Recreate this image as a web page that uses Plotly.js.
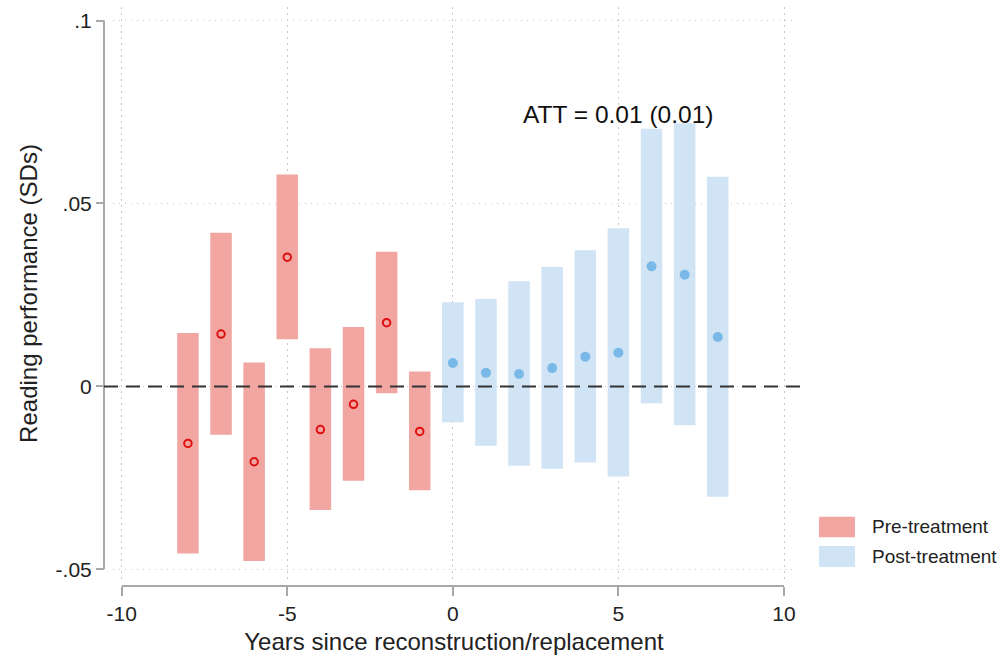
<!DOCTYPE html>
<html>
<head>
<meta charset="utf-8">
<script src="https://cdn.plot.ly/plotly-3.0.1.min.js"></script>
<style>
  html, body { margin: 0; padding: 0; background: #fff; }
  #chart { width: 1003px; height: 660px; }
</style>
</head>
<body>
<div id="chart"></div>
<script>
// Event-study estimates (Reading performance, SDs)
const preYears  = [-8, -7, -6, -5, -4, -3, -2, -1];
const preEst    = [-0.0156, 0.0143, -0.0206, 0.0353, -0.0118, -0.0049, 0.0174, -0.0123];
const preLower  = [-0.0457, -0.0132, -0.0477, 0.0129, -0.0338, -0.0258, -0.0019, -0.0284];
const preUpper  = [0.0146, 0.0420, 0.0065, 0.0579, 0.0104, 0.0162, 0.0368, 0.0041];

const postYears = [0, 1, 2, 3, 4, 5, 6, 7, 8];
const postEst   = [0.0064, 0.0037, 0.0034, 0.0050, 0.0081, 0.0092, 0.0328, 0.0305, 0.0135];
const postLower = [-0.0098, -0.0162, -0.0217, -0.0225, -0.0208, -0.0246, -0.0046, -0.0106, -0.0302];
const postUpper = [0.0230, 0.0239, 0.0287, 0.0326, 0.0372, 0.0432, 0.0704, 0.0719, 0.0573];

const xTicks = [-10, -5, 0, 5, 10];
const xTickText = ['-10', '-5', '0', '5', '10'];
const yTicks = [-0.05, 0, 0.05, 0.1];
const yTickText = ['-.05', '0', '.05', '.1'];

const legendLabels = ['Pre-treatment', 'Post-treatment'];
const attLabel = 'ATT = 0.01 (0.01)';

const preBarColor = 'rgb(241,166,162)';
const postBarColor = 'rgb(208,228,245)';
const preDotColor = 'rgb(222,16,16)';
const postDotColor = 'rgb(122,185,231)';
const FONT = 'Liberation Sans, Arial, Helvetica, sans-serif';

const traces = [
  {
    type: 'bar', x: preYears,
    y: preUpper.map((u, i) => u - preLower[i]),
    base: preLower, width: 0.65,
    marker: { color: preBarColor, line: { width: 0 } },
    name: legendLabels[0], showlegend: false, hoverinfo: 'skip'
  },
  {
    type: 'bar', x: postYears,
    y: postUpper.map((u, i) => u - postLower[i]),
    base: postLower, width: 0.65,
    marker: { color: postBarColor, line: { width: 0 } },
    name: legendLabels[1], showlegend: false, hoverinfo: 'skip'
  },
  {
    type: 'scatter', mode: 'markers', x: preYears, y: preEst,
    marker: { symbol: 'circle-open', size: 7.5, color: preDotColor, line: { width: 2, color: preDotColor } },
    showlegend: false
  },
  {
    type: 'scatter', mode: 'markers', x: postYears, y: postEst,
    marker: { symbol: 'circle', size: 10, color: postDotColor },
    showlegend: false
  }
];

const axisGray = '#a8a8a8';
const gridGray = '#c8c8c8';

const layout = {
  width: 1003, height: 660,
  margin: { l: 104, r: 208, t: 7, b: 74 },
  paper_bgcolor: '#fff', plot_bgcolor: '#fff',
  font: { family: FONT, color: '#222' },
  barmode: 'overlay',
  showlegend: false,
  xaxis: {
    domain: [0.013, 1],
    anchor: 'free', position: 0,
    range: [-10.263, 10.332],
    tickvals: xTicks, ticktext: xTickText,
    ticks: 'outside', ticklen: 9, tickwidth: 2, tickcolor: axisGray,
    showline: false, zeroline: false,
    showgrid: true, gridcolor: gridGray, gridwidth: 1, griddash: '1.5px,4.5px',
    tickfont: { size: 21, family: FONT, color: '#222' },
    title: { text: 'Years since reconstruction/replacement', font: { size: 24, family: FONT, color: '#222' }, standoff: 8 }
  },
  yaxis: {
    domain: [0.01036, 1],
    anchor: 'free', position: 0,
    range: [-0.05292, 0.10369],
    tickvals: yTicks, ticktext: yTickText,
    ticks: 'outside', ticklen: 8, tickwidth: 2, tickcolor: axisGray,
    showline: false, zeroline: false,
    showgrid: true, gridcolor: gridGray, gridwidth: 1, griddash: '1.5px,4.5px',
    tickfont: { size: 21, family: FONT, color: '#222' },
    title: { text: 'Reading performance (SDs)', font: { size: 24, family: FONT, color: '#222' }, standoff: 10 }
  },
  shapes: [
    // y axis line
    { type: 'line', xref: 'paper', yref: 'y', x0: 0, x1: 0, y0: -0.05, y1: 0.1,
      line: { color: axisGray, width: 2 }, layer: 'above' },
    // x axis line
    { type: 'line', xref: 'x', yref: 'paper', x0: -10, x1: 10, y0: 0, y1: 0,
      line: { color: axisGray, width: 2 }, layer: 'above' },
    // zero reference line
    { type: 'line', xref: 'paper', yref: 'y', x0: 0, x1: 1.0072, y0: 0, y1: 0,
      line: { color: '#333', width: 2, dash: '14px,8px' }, layer: 'above' },
    // legend swatches
    { type: 'rect', xref: 'paper', yref: 'paper', x0: 1.0347, x1: 1.0868, y0: 0.0841, y1: 0.1197,
      fillcolor: preBarColor, line: { width: 0 } },
    { type: 'rect', xref: 'paper', yref: 'paper', x0: 1.0347, x1: 1.0868, y0: 0.0328, y1: 0.0691,
      fillcolor: postBarColor, line: { width: 0 } }
  ],
  annotations: [
    { xref: 'x', yref: 'y', x: 5, y: 0.0742, text: attLabel, showarrow: false,
      xanchor: 'center', yanchor: 'middle', font: { size: 24.5, family: FONT, color: '#111' } },
    { xref: 'paper', yref: 'paper', x: 1.1085, y: 0.1019, text: legendLabels[0], showarrow: false,
      xanchor: 'left', yanchor: 'middle', font: { size: 19, family: FONT, color: '#222' } },
    { xref: 'paper', yref: 'paper', x: 1.1085, y: 0.0509, text: legendLabels[1], showarrow: false,
      xanchor: 'left', yanchor: 'middle', font: { size: 19, family: FONT, color: '#222' } }
  ]
};

Plotly.newPlot('chart', traces, layout, { displayModeBar: false, staticPlot: true });
</script>
</body>
</html>
